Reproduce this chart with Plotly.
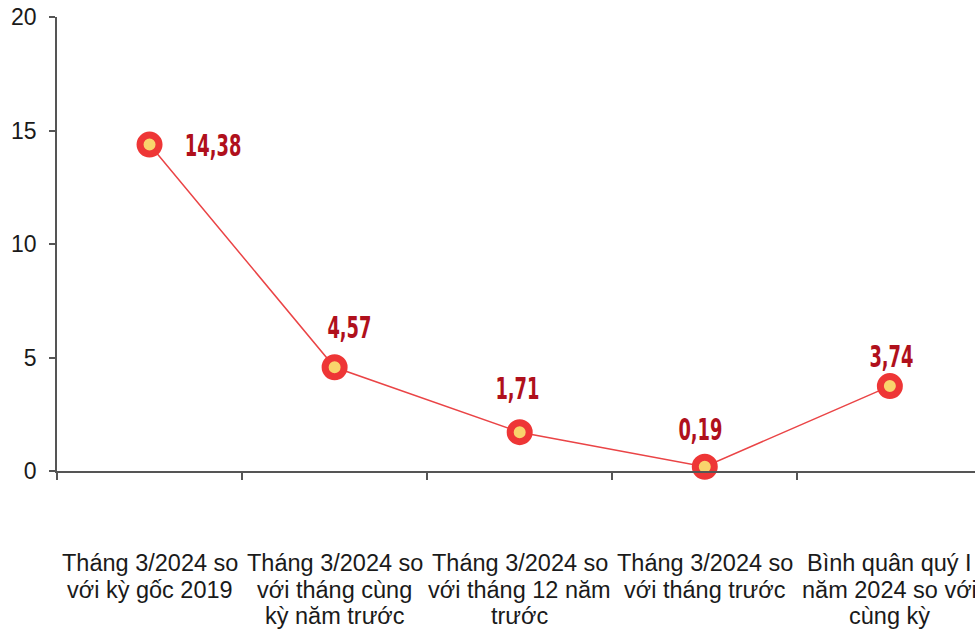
import plotly.graph_objects as go

categories = [
    "Tháng 3/2024 so<br>với kỳ gốc 2019",
    "Tháng 3/2024 so<br>với tháng cùng<br>kỳ năm trước",
    "Tháng 3/2024 so<br>với tháng 12 năm<br>trước",
    "Tháng 3/2024 so<br>với tháng trước",
    "Bình quân quý I<br>năm 2024 so với<br>cùng kỳ",
]
values = [14.38, 4.57, 1.71, 0.19, 3.74]
value_labels = ["14,38", "4,57", "1,71", "0,19", "3,74"]
y_ticks = [0, 5, 10, 15, 20]

# label offsets (pixels) relative to each point
label_offsets = [(63, 0), (15, 40), (-2, 44), (-4, 38), (2, 30)]

LABEL_FONT = "DejaVu Sans Condensed, Liberation Sans Narrow, Arial Narrow, sans-serif"
TEXT_FONT = "Liberation Sans, Arial, Helvetica, sans-serif"

fig = go.Figure()
fig.add_trace(go.Scatter(
    x=list(range(len(categories))),
    y=values,
    mode="lines+markers",
    line=dict(color="#EA4446", width=1.5),
    marker=dict(size=19, color="#F9D46C", line=dict(color="#EE3636", width=7)),
    hoverinfo="skip",
    showlegend=False,
    cliponaxis=False,
))

annotations = []
for i, (v, lab) in enumerate(zip(values, value_labels)):
    dx, dy = label_offsets[i]
    annotations.append(dict(
        x=i, y=v, xref="x", yref="y", text=f"<b>{lab}</b>", showarrow=False,
        xshift=dx, yshift=dy, xanchor="center", yanchor="middle",
        font=dict(family=LABEL_FONT, size=31, color="#B0101C"),
    ))

# category labels, one annotation per line for exact line spacing
for i, cat in enumerate(categories):
    for j, line in enumerate(cat.split("<br>")):
        annotations.append(dict(
            x=i, y=0, xref="x", yref="y", text=line, showarrow=False,
            xanchor="center", yanchor="middle", yshift=-(92 + 26.5 * j),
            font=dict(family=TEXT_FONT, size=23.5, color="#1a1a1a"),
        ))

fig.update_layout(
    width=975, height=633,
    margin=dict(l=57, r=0, t=17, b=162),
    paper_bgcolor="white", plot_bgcolor="white",
    annotations=annotations,
    xaxis=dict(
        range=[-0.5, 4.46],
        tickmode="array",
        tickvals=[k + 0.5 for k in range(-1, len(categories))],
        ticktext=["" for _ in range(len(categories) + 1)],
        ticks="outside", ticklen=7, tickcolor="#555", tickwidth=1.5,
        showline=True, linecolor="#555", linewidth=1.5,
        showgrid=False, zeroline=False,
    ),
    yaxis=dict(
        range=[0, 20],
        tickvals=y_ticks,
        ticktext=[str(t) for t in y_ticks],
        ticks="outside", ticklen=6, tickcolor="#555", tickwidth=1.5,
        showline=True, linecolor="#555", linewidth=1.5,
        showgrid=False, zeroline=False,
        tickfont=dict(family=TEXT_FONT, size=23, color="#1a1a1a"),
        ticklabelstandoff=8,
    ),
)

# condense the value labels horizontally (reference uses a narrow display font)
post_script = """
var gd = document.getElementById('{plot_id}');
function condense(){
  gd.querySelectorAll('.annotation-text').forEach(function(t){
    if (/^\\d+,\\d+$/.test(t.textContent.trim())) {
      t.style.transformBox = 'fill-box';
      t.style.transformOrigin = 'center';
      t.style.transform = 'scaleX(0.64)';
    }
  });
}
condense();
gd.on('plotly_afterplot', condense);
"""

fig.write_html("out.html", post_script=post_script)
